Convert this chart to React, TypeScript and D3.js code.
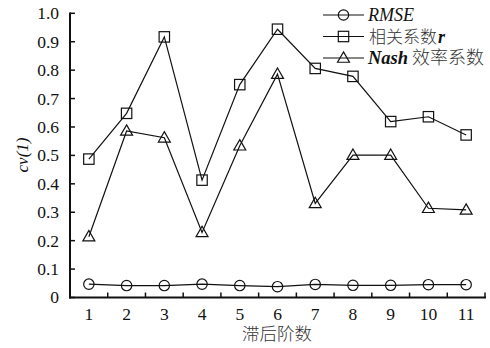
import React from "react";
import * as d3 from "d3";

// Lag orders on the x axis
const lags = ["1", "2", "3", "4", "5", "6", "7", "8", "9", "10", "11"];
// Evaluation metrics per lag order
const rmse = [0.047, 0.042, 0.042, 0.047, 0.042, 0.038, 0.046, 0.043, 0.043, 0.045, 0.045];
const corrR = [0.487, 0.648, 0.917, 0.413, 0.749, 0.944, 0.806, 0.778, 0.619, 0.636, 0.572];
const nash = [0.214, 0.586, 0.562, 0.229, 0.534, 0.786, 0.331, 0.501, 0.501, 0.314, 0.308];
const yTicks = [0, 0.1, 0.2, 0.3, 0.4, 0.5, 0.6, 0.7, 0.8, 0.9, 1.0];

const W = 490;
const H = 348;
const left = 70;
const right = 485;
const top = 13.3;
const bottom = 297.5;

const serif = "'Liberation Serif', 'Times New Roman', serif";
const cjk = "'Noto Sans CJK SC', sans-serif";

type Shape = "circle" | "square" | "triangle";

function Marker({ shape, cx, cy }: { shape: Shape; cx: number; cy: number }) {
  const common = { fill: "none", stroke: "#111", strokeWidth: 1.2 };
  if (shape === "circle") return <circle cx={cx} cy={cy} r={5.2} {...common} />;
  if (shape === "square") return <rect x={cx - 5.2} y={cy - 5.2} width={10.4} height={10.4} {...common} />;
  const tri = d3.symbol(d3.symbolTriangle, 62)();
  return <path d={tri || ""} transform={`translate(${cx},${cy + 0.8})`} {...common} />;
}

export default function App() {
  const x = d3.scaleBand<string>().domain(lags).range([left, right]).padding(0);
  const y = d3.scaleLinear().domain([0, 1]).range([bottom, top]);
  const cx = (i: number) => (x(lags[i]) as number) + x.bandwidth() / 2;
  const line = d3
    .line<number>()
    .x((_, i) => cx(i))
    .y((v) => y(v));

  const series: { name: string; values: number[]; shape: Shape }[] = [
    { name: "RMSE", values: rmse, shape: "circle" },
    { name: "r", values: corrR, shape: "square" },
    { name: "Nash", values: nash, shape: "triangle" },
  ];

  const legendRows = [15, 36.5, 58];
  const legendX0 = 323;
  const legendX1 = 364;

  return (
    <svg width={W} height={H} style={{ position: "absolute", left: 0, top: 0, background: "#fff" }}>
      {/* series lines and markers */}
      {series.map((s) => (
        <g key={s.name}>
          <path d={line(s.values) || ""} fill="none" stroke="#111" strokeWidth={1.2} />
          {s.values.map((v, i) => (
            <Marker key={i} shape={s.shape} cx={cx(i)} cy={y(v)} />
          ))}
        </g>
      ))}

      {/* y axis */}
      <line x1={left} x2={left} y1={top - 0.8} y2={bottom + 1} stroke="#111" strokeWidth={2} />
      {yTicks.map((t) => (
        <g key={t}>
          <line x1={left} x2={left + 5} y1={y(t)} y2={y(t)} stroke="#111" strokeWidth={1.5} />
          <text
            x={left - 11}
            y={y(t)}
            dy="0.34em"
            textAnchor="end"
            fontFamily={serif}
            fontSize={17.5}
            fill="#111"
          >
            {t === 0 ? "0" : d3.format(".1f")(t)}
          </text>
        </g>
      ))}

      {/* x axis */}
      <line x1={left - 1} x2={right + 1} y1={bottom} y2={bottom} stroke="#111" strokeWidth={2} />
      {lags.map((c) => {
        const bx = (x(c) as number) + x.bandwidth();
        return <line key={"t" + c} x1={bx} x2={bx} y1={bottom} y2={bottom - 5} stroke="#111" strokeWidth={1.5} />;
      })}
      {lags.map((c, i) => (
        <text key={"l" + c} x={cx(i)} y={320} textAnchor="middle" fontFamily={serif} fontSize={17.5} fill="#111">
          {c}
        </text>
      ))}

      {/* axis titles */}
      <text x={277} y={339.5} textAnchor="middle" fontFamily={cjk} fontWeight={300} fontSize={17.5} fill="#333">
        滞后阶数
      </text>
      <text
        transform={`translate(28,155) rotate(-90)`}
        textAnchor="middle"
        fontFamily={serif}
        fontStyle="italic"
        fontSize={17}
        fill="#111"
      >
        cv(1)
      </text>

      {/* legend */}
      {series.map((s, k) => (
        <g key={"lg" + s.name}>
          <line x1={legendX0} x2={legendX1} y1={legendRows[k]} y2={legendRows[k]} stroke="#111" strokeWidth={1.2} />
          <Marker shape={s.shape} cx={(legendX0 + legendX1) / 2} cy={legendRows[k]} />
        </g>
      ))}
      <text x={368} y={legendRows[0]} dy="0.34em" fontFamily={serif} fontStyle="italic" fontSize={18} fill="#111">
        RMSE
      </text>
      <text x={369} y={legendRows[1]} dy="0.36em" fontFamily={cjk} fontWeight={300} fontSize={17} fill="#333">
        相关系数
        <tspan dx={1} fontFamily={serif} fontStyle="italic" fontWeight="bold" fontSize={18} fill="#111">
          r
        </tspan>
      </text>
      <text x={368} y={legendRows[2]} dy="0.36em" fontFamily={cjk} fontWeight={300} fontSize={18} fill="#333">
        <tspan fontFamily={serif} fontStyle="italic" fontWeight="bold" fontSize={18.5} fill="#111">
          Nash
        </tspan>
        <tspan dx={4}>效率系数</tspan>
      </text>
    </svg>
  );
}
